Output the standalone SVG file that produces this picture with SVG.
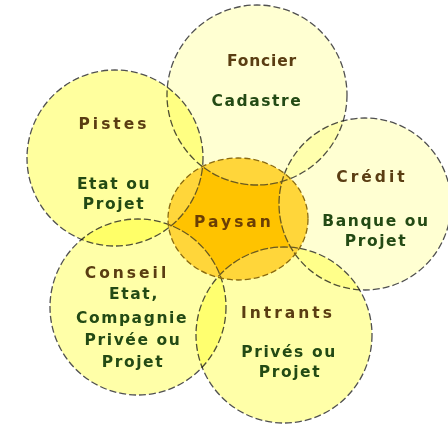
<svg xmlns="http://www.w3.org/2000/svg" width="448" height="426" viewBox="0 0 448 426">
<style>
.ring{stroke:#505050;stroke-width:1.3;stroke-dasharray:7 3;mix-blend-mode:multiply}
.line{fill:none;stroke:#6a5a20;stroke-width:1.3;stroke-dasharray:8 2}
.t{font-family:"DejaVu Sans",Verdana,sans-serif;font-weight:bold;font-size:15.5px;text-anchor:middle;letter-spacing:3px;fill:#5a3d12}
.s{font-family:"DejaVu Sans",Verdana,sans-serif;font-weight:bold;font-size:15.5px;text-anchor:middle;letter-spacing:1.6px;fill:#234a14}
</style>
<defs>
<clipPath id="pc"><ellipse cx="238" cy="219" rx="70" ry="61"/></clipPath>
<mask id="pm">
<ellipse cx="238" cy="219" rx="70" ry="61" fill="#fff"/>
<circle cx="257" cy="95" r="90" fill="#000"/>
<circle cx="115" cy="158" r="88" fill="#000"/>
<circle cx="365" cy="204" r="86" fill="#000"/>
<circle cx="138" cy="307" r="88" fill="#000"/>
<circle cx="284" cy="335" r="88" fill="#000"/>
</mask>
</defs>
<rect width="448" height="426" fill="#fff"/>
<g id="foncier">
<circle class="ring" cx="257" cy="95" r="90" fill="#FFFFD2"/>
<text class="t" x="262" y="66" style="letter-spacing:0.8px">Foncier</text>
<text class="s" x="257" y="106">Cadastre</text>
</g>
<g id="pistes">
<circle class="ring" cx="115" cy="158" r="88" fill="#FFFF9E"/>
<text class="t" x="114" y="129">Pistes</text>
<text class="s" x="114" y="189">Etat ou</text>
<text class="s" x="114" y="209">Projet</text>
</g>
<g id="credit">
<circle class="ring" cx="365" cy="204" r="86" fill="#FFFFD2"/>
<text class="t" x="372" y="182">Crédit</text>
<text class="s" x="376" y="226">Banque ou</text>
<text class="s" x="376" y="246">Projet</text>
</g>
<g id="conseil">
<circle class="ring" cx="138" cy="307" r="88" fill="#FFFFA8"/>
<text class="t" x="127" y="278">Conseil</text>
<text class="s" x="134" y="299">Etat,</text>
<text class="s" x="132" y="323">Compagnie</text>
<text class="s" x="133" y="345">Privée ou</text>
<text class="s" x="133" y="367">Projet</text>
</g>
<g id="intrants">
<circle class="ring" cx="284" cy="335" r="88" fill="#FFFFA8"/>
<text class="t" x="288" y="318">Intrants</text>
<text class="s" x="289" y="357">Privés ou</text>
<text class="s" x="290" y="377">Projet</text>
</g>
<g id="paysan">
<ellipse cx="238" cy="219" rx="70" ry="61" fill="#FFD63A"/>
<ellipse cx="238" cy="219" rx="70" ry="61" fill="#FFC300" mask="url(#pm)"/>
<g clip-path="url(#pc)">
<circle class="line" cx="257" cy="95" r="90"/>
<circle class="line" cx="115" cy="158" r="88"/>
<circle class="line" cx="365" cy="204" r="86"/>
<circle class="line" cx="138" cy="307" r="88"/>
<circle class="line" cx="284" cy="335" r="88"/>
</g>
<ellipse cx="238" cy="219" rx="70" ry="61" fill="none" stroke="#8a6a10" stroke-width="1.3" stroke-dasharray="6 3"/>
<text class="t" x="234" y="227" style="fill:#6a3e05">Paysan</text>
</g>
</svg>
